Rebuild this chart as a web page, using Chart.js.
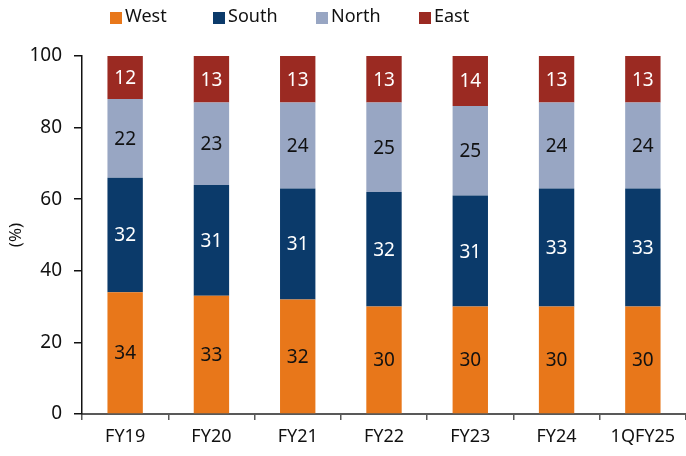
<!DOCTYPE html>
<html>
<head>
<meta charset="utf-8">
<script src="https://cdn.jsdelivr.net/npm/chart.js@4"></script>
<style>
  html, body { margin: 0; padding: 0; background: #fff; }
  #wrap { width: 686px; height: 456px; }
</style>
</head>
<body>
<div id="wrap"><canvas id="regionChart"></canvas></div>
<script>
// data
const categories = ['FY19', 'FY20', 'FY21', 'FY22', 'FY23', 'FY24', '1QFY25'];
const west  = [34, 33, 32, 30, 30, 30, 30];
const south = [32, 31, 31, 32, 31, 33, 33];
const north = [22, 23, 24, 25, 25, 24, 24];
const east  = [12, 13, 13, 13, 14, 13, 13];
const yTicks = [0, 20, 40, 60, 80, 100];

const FONT = "'Noto Sans', sans-serif";

// labels inside each segment
const segmentLabels = {
  id: 'segmentLabels',
  afterDatasetsDraw(chart) {
    const ctx = chart.ctx;
    ctx.save();
    ctx.font = '19px ' + FONT;
    ctx.textAlign = 'center';
    ctx.textBaseline = 'middle';
    chart.data.datasets.forEach((ds, i) => {
      chart.getDatasetMeta(i).data.forEach((bar, j) => {
        const mid = (bar.y + bar.base) / 2;
        ctx.fillStyle = ds.labelColor;
        ctx.fillText(String(ds.data[j]), bar.x, mid + 1);
      });
    });
    ctx.restore();
  }
};

// legend row across the top, fixed spacing like the original
const topLegend = {
  id: 'topLegend',
  afterDraw(chart) {
    const ctx = chart.ctx;
    const step = 103;
    const start = chart.chartArea.left + 28;
    ctx.save();
    ctx.font = '18px ' + FONT;
    ctx.textBaseline = 'middle';
    chart.data.datasets.forEach((ds, i) => {
      const x = start + i * step;
      ctx.fillStyle = ds.backgroundColor;
      ctx.fillRect(x, 12, 12, 12);
      ctx.fillStyle = '#111';
      ctx.fillText(ds.label, x + 15, 17);
    });
    ctx.restore();
  }
};

new Chart(document.getElementById('regionChart'), {
  type: 'bar',
  data: {
    labels: categories,
    datasets: [
      { label: 'West',  data: west,  backgroundColor: '#E8771A', labelColor: '#111' },
      { label: 'South', data: south, backgroundColor: '#0B3A6A', labelColor: '#fff' },
      { label: 'North', data: north, backgroundColor: '#98A6C3', labelColor: '#111' },
      { label: 'East',  data: east,  backgroundColor: '#9B2A22', labelColor: '#fff' }
    ]
  },
  options: {
    responsive: true,
    maintainAspectRatio: false,
    animation: false,
    layout: { padding: { top: 56, right: 0, left: 0, bottom: 0 } },
    datasets: { bar: { categoryPercentage: 1, barPercentage: 0.41 } },
    plugins: {
      legend: { display: false },
      tooltip: { enabled: false }
    },
    scales: {
      x: {
        stacked: true,
        afterFit(axis) { axis.height = 42; },
        grid: { offset: true, drawOnChartArea: false, tickLength: 6, color: '#595959', lineWidth: 1.5 },
        border: { color: '#595959', width: 2 },
        ticks: { color: '#111', font: { family: FONT, size: 18 }, padding: 6 }
      },
      y: {
        stacked: true,
        min: 0,
        max: 100,
        afterBuildTicks(axis) { axis.ticks = yTicks.map(v => ({ value: v })); },
        afterFit(axis) { axis.width = 82; },
        grid: { drawOnChartArea: false, tickLength: 8, color: '#111', lineWidth: 1.5 },
        border: { color: '#111', width: 1.5 },
        ticks: { color: '#111', font: { family: FONT, size: 19 }, padding: 12 },
        title: { display: true, text: '(%)', color: '#111', font: { family: FONT, size: 17 }, padding: 6 }
      }
    }
  },
  plugins: [segmentLabels, topLegend]
});
</script>
</body>
</html>
